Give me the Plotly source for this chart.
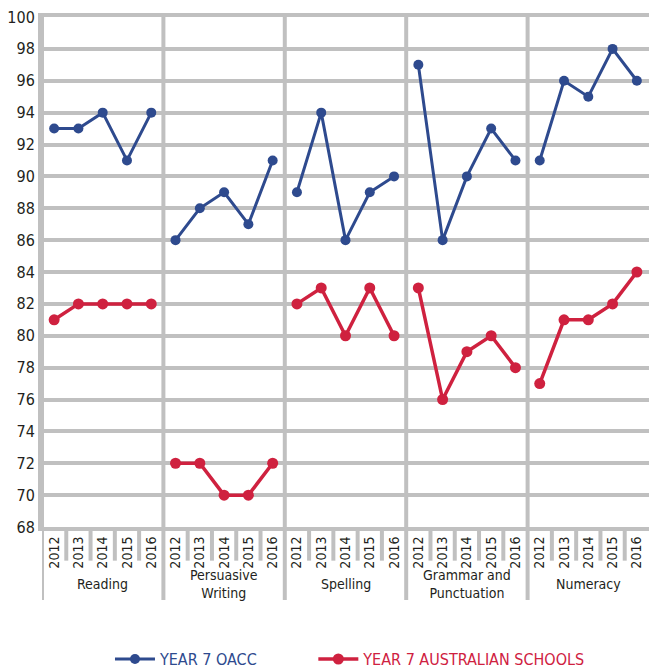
import plotly.graph_objects as go

categories = ["Reading", "Persuasive<br>Writing", "Spelling", "Grammar and<br>Punctuation", "Numeracy"]
years = ["2012", "2013", "2014", "2015", "2016"]
oacc = [
    [93, 93, 94, 91, 94],
    [86, 88, 89, 87, 91],
    [89, 94, 86, 89, 90],
    [97, 86, 90, 93, 91],
    [91, 96, 95, 98, 96],
]
aus = [
    [81, 82, 82, 82, 82],
    [72, 72, 70, 70, 72],
    [82, 83, 80, 83, 80],
    [83, 76, 79, 80, 78],
    [77, 81, 81, 82, 84],
]
series_names = ["YEAR 7 OACC", "YEAR 7 AUSTRALIAN SCHOOLS"]

BLUE = "#2e4a8e"
RED = "#cf213f"
GRID = "#c0c0c0"
TXT = "#231f20"
FONT = "Liberation Sans Narrow, DejaVu Sans Condensed, Arial Narrow, sans-serif"

n_years = len(years)
fig = go.Figure()

series = [(oacc, BLUE, series_names[0], 3, 10, "legend"),
          (aus, RED, series_names[1], 3.5, 11, "legend2")]
for data, color, name, lw, ms, lg in series:
    for gi, vals in enumerate(data):
        xs = [gi * n_years + j for j in range(n_years)]
        fig.add_trace(go.Scatter(
            x=xs, y=vals, mode="lines+markers",
            line=dict(color=color, width=lw),
            marker=dict(color=color, size=ms),
            name=f'<span style="color:{color}">{name}</span>',
            legendgroup=name, showlegend=(gi == 0), legend=lg,
            hoverinfo="skip", cliponaxis=False,
        ))

shapes = []
total = len(categories) * n_years
# group dividers (incl. left axis extension)
for gi in range(0, len(categories)):
    xb = gi * n_years - 0.5
    shapes.append(dict(type="line", xref="x", yref="paper", x0=xb, x1=xb, y0=1, y1=-0.143,
                       line=dict(color=GRID, width=4), layer="below"))
# year dividers
for k in range(total - 1):
    if (k + 1) % n_years == 0:
        continue
    xb = k + 0.5
    shapes.append(dict(type="line", xref="x", yref="paper", x0=xb, x1=xb, y0=0, y1=-0.066,
                       line=dict(color=GRID, width=4), layer="below"))

annotations = []
for gi, cat in enumerate(categories):
    annotations.append(dict(
        x=gi * n_years + (n_years - 1) / 2, y=-0.111, xref="x", yref="paper",
        text=cat, showarrow=False, font=dict(family=FONT, size=14, color=TXT),
        xanchor="center", yanchor="middle", align="center",
    ))

leg_common = dict(orientation="h", y=-0.259, xanchor="left", yanchor="middle",
                  font=dict(family=FONT, size=16), itemwidth=40, bgcolor="rgba(0,0,0,0)")

fig.update_layout(
    width=649, height=669,
    margin=dict(l=42, r=0, t=17, b=142, autoexpand=False),
    paper_bgcolor="white", plot_bgcolor="white",
    font=dict(family=FONT, color=TXT),
    shapes=shapes, annotations=annotations,
    legend=dict(x=0.112, **leg_common),
    legend2=dict(x=0.447, **leg_common),
    xaxis=dict(
        range=[-0.5, total - 0.5], automargin=False,
        tickmode="array", tickvals=list(range(total)), ticktext=years * len(categories),
        tickangle=-90, tickfont=dict(family=FONT, size=14, color=TXT),
        showgrid=False, zeroline=False,
        showline=True, mirror=True, linecolor=GRID, linewidth=4,
    ),
    yaxis=dict(
        range=[68, 100], dtick=2, tick0=68, automargin=False,
        tickfont=dict(family=FONT, size=16, color=TXT),
        showgrid=True, gridcolor=GRID, gridwidth=4, zeroline=False,
        showline=True, linecolor=GRID, linewidth=4,
    ),
)

fig.write_html("out.html", config={"displayModeBar": False},
               post_script="document.body.style.margin='0';")
